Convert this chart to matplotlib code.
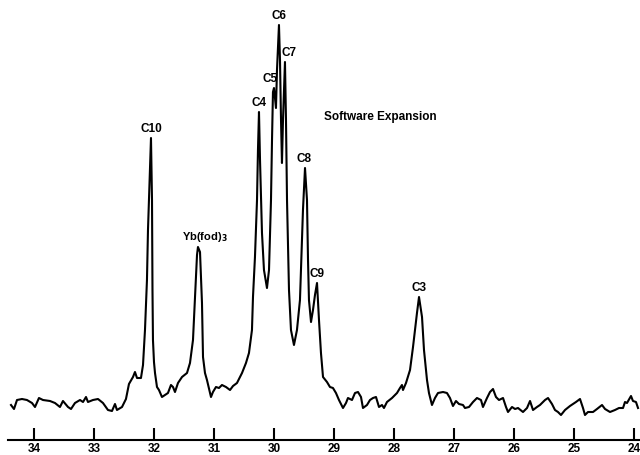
import numpy as np
import matplotlib
matplotlib.use("Agg")
import matplotlib.pyplot as plt

plt.rcParams['font.family'] = ['Liberation Sans', 'DejaVu Sans']

# Chemical shift (ppm) and relative intensity of the traced 13C spectrum
ppm = [34.383, 34.333, 34.283, 34.200, 34.117, 34.033, 33.983, 33.917, 33.850, 33.733,
       33.650, 33.567, 33.517, 33.433, 33.383, 33.317, 33.233, 33.183, 33.133, 33.100,
       33.017, 32.933, 32.850, 32.767, 32.700, 32.650, 32.617, 32.533, 32.467, 32.417,
       32.350, 32.317, 32.283, 32.217, 32.183, 32.150, 32.117, 32.100, 32.067, 32.050,
       32.033, 32.025, 32.017, 32.000, 31.983, 31.950, 31.917, 31.867, 31.817, 31.767,
       31.717, 31.683, 31.650, 31.600, 31.533, 31.450, 31.400, 31.350, 31.317, 31.283,
       31.267, 31.233, 31.200, 31.183, 31.150, 31.117, 31.050, 31.017, 30.967, 30.917,
       30.867, 30.800, 30.733, 30.683, 30.617, 30.533, 30.467, 30.417, 30.367, 30.350,
       30.317, 30.283, 30.267, 30.250, 30.233, 30.200, 30.167, 30.117, 30.083, 30.050,
       30.033, 30.017, 30.000, 29.967, 29.950, 29.917, 29.900, 29.883, 29.867, 29.850,
       29.817, 29.800, 29.783, 29.750, 29.717, 29.667, 29.617, 29.567, 29.517, 29.483,
       29.450, 29.433, 29.417, 29.383, 29.350, 29.317, 29.283, 29.250, 29.217, 29.183,
       29.117, 29.067, 29.017, 28.967, 28.917, 28.850, 28.800, 28.767, 28.700, 28.650,
       28.600, 28.550, 28.517, 28.450, 28.400, 28.350, 28.300, 28.250, 28.200, 28.167,
       28.117, 28.033, 27.950, 27.900, 27.867, 27.850, 27.800, 27.733, 27.683, 27.617,
       27.583, 27.533, 27.500, 27.450, 27.417, 27.367, 27.317, 27.267, 27.183, 27.117,
       27.067, 27.017, 26.967, 26.917, 26.850, 26.817, 26.750, 26.683, 26.617, 26.550,
       26.517, 26.450, 26.400, 26.350, 26.300, 26.250, 26.183, 26.133, 26.100, 26.033,
       25.983, 25.933, 25.850, 25.783, 25.733, 25.683, 25.617, 25.567, 25.483, 25.433,
       25.367, 25.317, 25.267, 25.217, 25.150, 25.067, 24.967, 24.900, 24.850, 24.817,
       24.767, 24.683, 24.617, 24.533, 24.483, 24.400, 24.317, 24.250, 24.183, 24.150,
       24.117, 24.050, 24.017, 23.967, 23.933]

intensity = [-3, -7, 2, 3, 2, -1, -5, 4, 2, 1,
             -1, -5, 1, -5, -7, -1, 2, 0, 5, 0,
             2, 3, -1, -8, -9, -2, -8, -5, 3, 18,
             25, 30, 24, 24, 37, 72, 122, 172, 232, 264,
             202, 112, 62, 40, 29, 15, 12, 5, 7, 9,
             17, 15, 10, 19, 25, 29, 39, 62, 105, 147,
             155, 150, 99, 45, 29, 22, 5, 10, 15, 14,
             17, 15, 12, 16, 19, 29, 39, 49, 72, 105,
             145, 202, 252, 290, 242, 169, 132, 114, 132, 202,
             262, 310, 314, 294, 332, 377, 342, 282, 239, 282,
             340, 282, 202, 112, 72, 57, 72, 102, 192, 234,
             202, 142, 102, 80, 92, 107, 119, 82, 49, 25,
             20, 15, 14, 9, 2, -6, -1, 4, 2, 9,
             10, 5, -6, -3, 2, 4, 5, -5, -3, -6,
             0, 4, 9, 14, 17, 12, 19, 32, 55, 89,
             105, 85, 52, 22, 9, -3, 4, 9, 10, 9,
             4, -4, 1, -2, -3, -6, -5, 0, 4, 2,
             -5, 4, 10, 13, 5, 2, 4, -5, -10, -5,
             -7, -6, -10, -6, 1, -8, -5, -3, 2, 4,
             -2, -8, -10, -13, -8, -4, 0, 3, -6, -13,
             -10, -10, -7, -3, -7, -10, -8, -6, -6, 0,
             -1, 6, 1, 0, -6]

tick_values = [34, 33, 32, 31, 30, 29, 28, 27, 26, 25, 24]

peak_names = ['C10', 'C4', 'C5', 'C6', 'C7', 'C8', 'C9', 'C3']
peak_ppm = [32.05, 30.25, 30.00, 29.917, 29.817, 29.483, 29.283, 27.583]
peak_dx = [0, 0, -3, 0, 3, -1, 0, 0]   # horizontal label nudges (points)

reagent_label = r'Yb(fod)$_\mathbf{3}$'
reagent_ppm = 31.267
title_text = 'Software Expansion'

ppm_arr = np.array(ppm)
int_arr = np.array(intensity)

fig = plt.figure(figsize=(6.4, 4.55), dpi=100)
ax = fig.add_axes([8 / 640, 15 / 455, 1 - 8 / 640, 440 / 455])
ax.plot(ppm_arr, int_arr, color='black', lw=1.5, solid_joinstyle='round')

ax.set_xlim(34.433, 23.9)
ax.set_ylim(-38, 402)

for s in ['top', 'left', 'right']:
    ax.spines[s].set_visible(False)
ax.spines['bottom'].set_linewidth(1.5)
ax.set_yticks([])
ax.set_xticks(tick_values)
ax.set_xticklabels([str(t) for t in tick_values], fontsize=8.5, fontweight='bold')
ax.tick_params(axis='x', direction='in', length=9, width=1.5, pad=2)


def peak_height(p):
    m = np.abs(ppm_arr - p) < 0.03
    return int_arr[m].max()


for name, p, dx in zip(peak_names, peak_ppm, peak_dx):
    ax.annotate(name, (p, peak_height(p)), xytext=(dx, 2), textcoords='offset points',
                ha='center', va='bottom', fontsize=8.5, fontweight='bold')

ax.annotate(reagent_label, (reagent_ppm, peak_height(reagent_ppm)), xytext=(5, 2),
            textcoords='offset points', ha='center', va='bottom', fontsize=8,
            fontweight='bold')

ax.text(28.233, 285, title_text, ha='center', va='center', fontsize=8.5,
        fontweight='bold')

fig.savefig('out.png', dpi=100)
